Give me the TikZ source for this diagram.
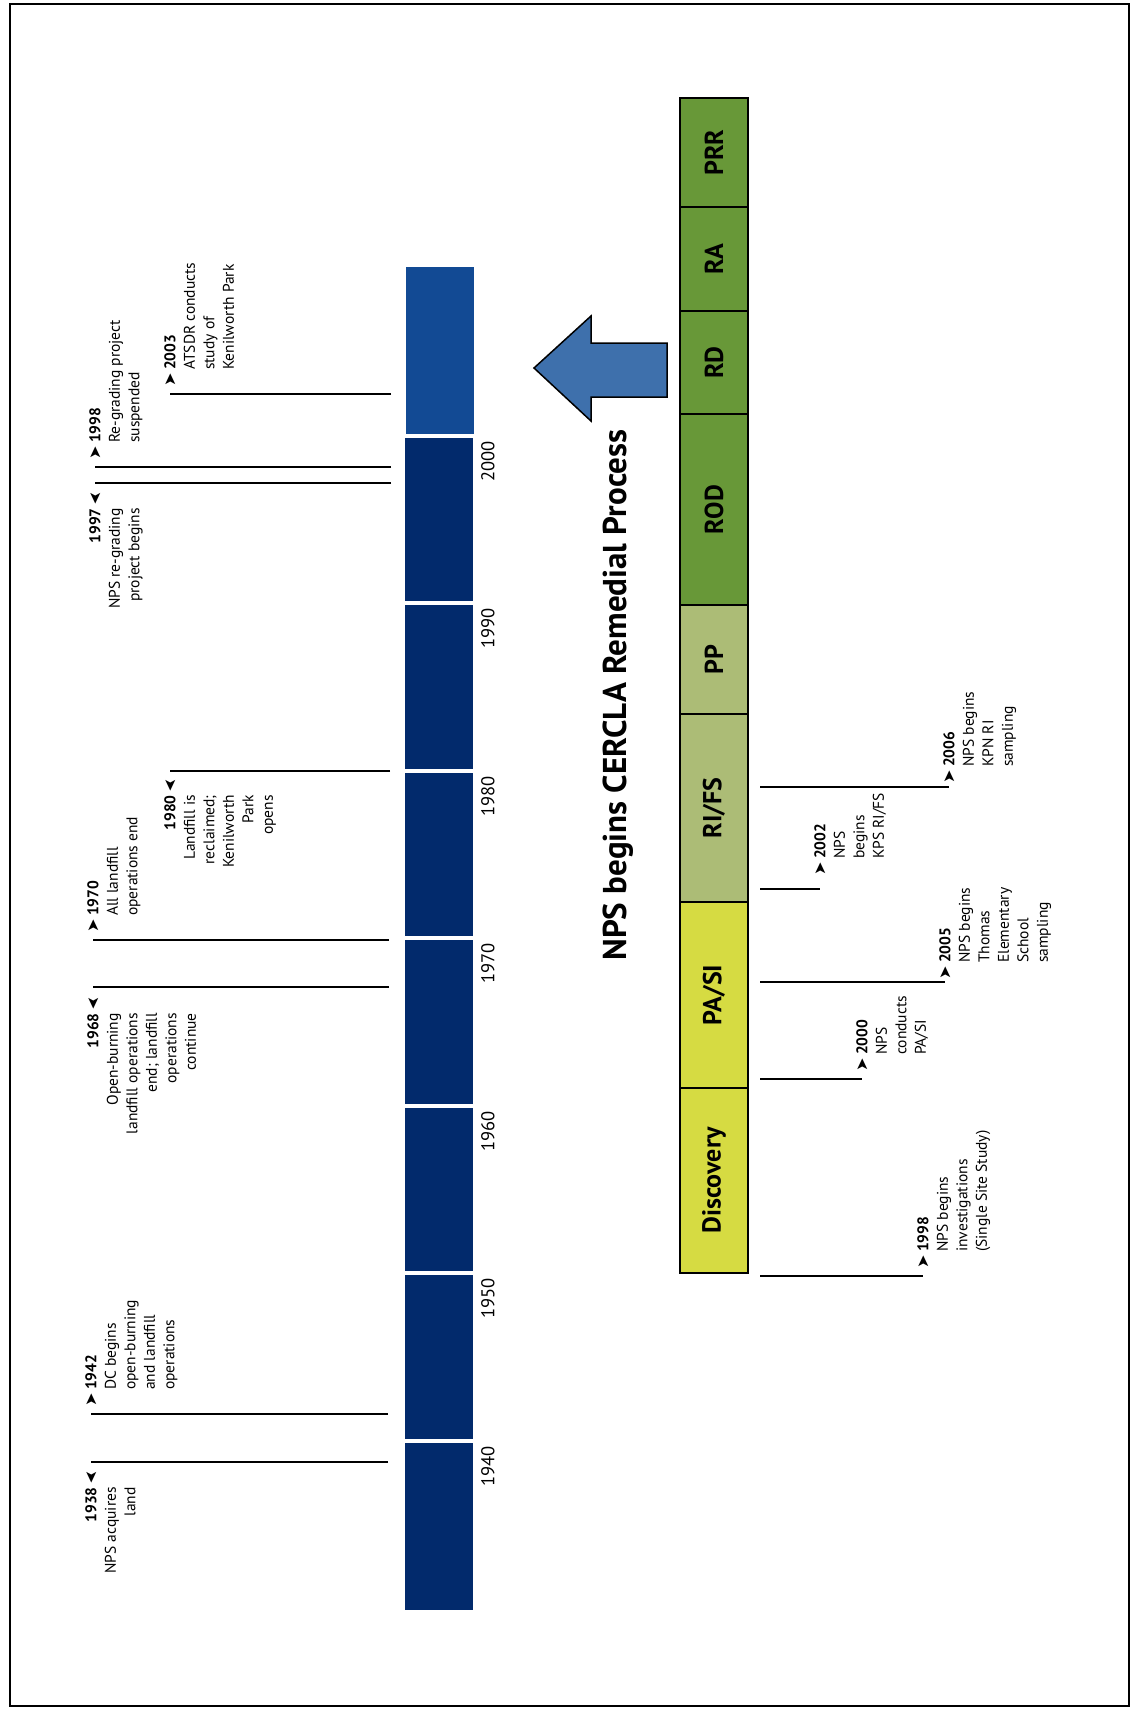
\documentclass[tikz,border=0pt]{standalone}
\usepackage{fontspec}
\setmainfont{PT Sans}
\newfontfamily\symfont{DejaVu Sans}
\definecolor{navy}{RGB}{2,42,108}
\definecolor{topblue}{RGB}{18,74,148}
\definecolor{arrowblue}{RGB}{62,112,172}
\definecolor{discyel}{RGB}{214,219,66}
\definecolor{rifsgrn}{RGB}{172,188,118}
\definecolor{rodgrn}{RGB}{104,152,56}
\newcommand\chevR{\llap{{\symfont\fontsize{16}{16}\selectfont ➤}\hspace{3pt}}}
\newcommand\chevL{\rlap{\hspace{3pt}\reflectbox{\symfont\fontsize{16}{16}\selectfont ➤}}}
\tikzset{
  evtext/.style = {font=\fontsize{15.5}{19.5}\selectfont, inner sep=0pt, rotate=90},
  evup/.style = {evtext, align=left, anchor=north west},% label above its line
  evdn/.style = {evtext, align=right, anchor=north east},% label below its line
  evline/.style = {line width=1.8pt},
  pbox/.style = {draw=black, line width=2.2pt, rotate=90, minimum height=68pt,
    inner sep=0pt, font=\fontsize{26}{26}\selectfont\bfseries},
  yrlab/.style = {rotate=90, inner sep=0pt, anchor=east,
    font=\fontsize{18.5}{18.5}\selectfont}
}
\begin{document}
\begin{tikzpicture}[x=1pt,y=-1pt]
\useasboundingbox (0,0) rectangle (1138,1709);
\draw[line width=1.5pt] (10,4) rectangle (1129,1706);

% timeline bar
\fill[navy] (405,436) rectangle (473,1610);
\fill[topblue] (406,267) rectangle (474,436);
\foreach \yr/\yy in {1940/1441,1950/1273,1960/1106,1970/938,1980/771,1990/603,2000/436} {
  \draw[white, line width=3.5pt] (403,\yy) -- (476,\yy);
  \node[yrlab] (y\yr) at (488,\yy+5) {\yr};
}

% events on the site
\coordinate (b1938) at (388,1462); \coordinate (e1938) at (91,1462);
\draw[evline] (b1938) -- (e1938);
\node[evdn] (t1938) at ([shift={(-6,25)}]e1938) {\textbf{1938}\chevL\\NPS acquires\\land};

\coordinate (b1942) at (388,1414); \coordinate (e1942) at (91,1414);
\draw[evline] (b1942) -- (e1942);
\node[evup] (t1942) at ([shift={(-6,-24)}]e1942) {\chevR\textbf{1942}\\DC begins\\open-burning\\and landfill\\operations};

\coordinate (b1968) at (389,987); \coordinate (e1968) at (93,987);
\draw[evline] (b1968) -- (e1968);
\node[evdn] (t1968) at ([shift={(-6,26)}]e1968) {\textbf{1968}\chevL\\Open-burning\\landfill operations\\end; landfill\\operations\\continue};

\coordinate (b1970) at (389,940); \coordinate (e1970) at (93,940);
\draw[evline] (b1970) -- (e1970);
\node[evup] (t1970) at ([shift={(-6,-24)}]e1970) {\chevR\textbf{1970}\\All landfill\\operations end};

\coordinate (b1980) at (390,771); \coordinate (e1980) at (170,771);
\draw[evline] (b1980) -- (e1980);
\node[evdn] (t1980) at ([shift={(-6,24)}]e1980) {\textbf{1980}\chevL\\Landfill is\\reclaimed;\\Kenilworth\\Park\\opens};

\coordinate (b1997) at (391,483); \coordinate (e1997) at (95,483);
\draw[evline] (b1997) -- (e1997);
\node[evdn] (t1997) at ([shift={(-6,25)}]e1997) {\textbf{1997}\chevL\\NPS re-grading\\project begins};

\coordinate (b1998) at (391,467); \coordinate (e1998) at (95,467);
\draw[evline] (b1998) -- (e1998);
\node[evup] (t1998) at ([shift={(-6,-24)}]e1998) {\chevR\textbf{1998}\\Re-grading project\\suspended};

\coordinate (b2003) at (391,394); \coordinate (e2003) at (170,394);
\draw[evline] (b2003) -- (e2003);
\node[evup] (t2003) at ([shift={(-6,-24)}]e2003) {\chevR\textbf{2003}\\ATSDR conducts\\study of\\Kenilworth Park};

% arrow and heading
\draw[line width=1.5pt, fill=arrowblue] (534,368) -- (591,316) -- (591,343) -- (667,343)
  -- (667,397) -- (591,397) -- (591,421) -- cycle;
\node[rotate=90, font=\fontsize{33}{33}\selectfont\bfseries] (title) at (618,695)
  {NPS begins CERCLA Remedial Process};

% CERCLA steps
\node[pbox, fill=rodgrn, minimum width=109pt] (prr) at (714,152.5) {PRR};
\node[pbox, fill=rodgrn, minimum width=104pt] (ra) at (714,259) {RA};
\node[pbox, fill=rodgrn, minimum width=103pt] (rd) at (714,362.5) {RD};
\node[pbox, fill=rodgrn, minimum width=191pt] (rod) at (714,509.5) {ROD};
\node[pbox, fill=rifsgrn, minimum width=109pt] (pp) at (714,659.5) {PP};
\node[pbox, fill=rifsgrn, minimum width=188pt] (rifs) at (714,808) {RI/FS};
\node[pbox, fill=discyel, minimum width=186pt] (pasi) at (714,995) {PA/SI};
\node[pbox, fill=discyel, minimum width=185pt] (disc) at (714,1180.5) {Discovery};

% events of the process
\coordinate (b1998r) at (760,1276); \coordinate (e1998r) at (923,1276);
\draw[evline] (b1998r) -- (e1998r);
\node[evup] (t1998r) at ([shift={(-6,-24)}]e1998r) {\chevR\textbf{1998}\\NPS begins\\investigations\\(Single Site Study)};

\coordinate (b2000) at (760,1079); \coordinate (e2000) at (862,1079);
\draw[evline] (b2000) -- (e2000);
\node[evup] (t2000) at ([shift={(-6,-24)}]e2000) {\chevR\textbf{2000}\\NPS\\conducts\\PA/SI};

\coordinate (b2005) at (760,982); \coordinate (e2005) at (945,982);
\draw[evline] (b2005) -- (e2005);
\node[evup] (t2005) at ([shift={(-6,-19)}]e2005) {\chevR\textbf{2005}\\NPS begins\\Thomas\\Elementary\\School\\sampling};

\coordinate (b2002) at (760,889); \coordinate (e2002) at (820,889);
\draw[evline] (b2002) -- (e2002);
\node[evup] (t2002) at ([shift={(-6,-30)}]e2002) {\chevR\textbf{2002}\\NPS\\begins\\KPS RI/FS};

\coordinate (b2006) at (760,787); \coordinate (e2006) at (949,787);
\draw[evline] (b2006) -- (e2006);
\node[evup] (t2006) at ([shift={(-6,-20)}]e2006) {\chevR\textbf{2006}\\NPS begins\\KPN RI\\sampling};
\end{tikzpicture}
\end{document}
